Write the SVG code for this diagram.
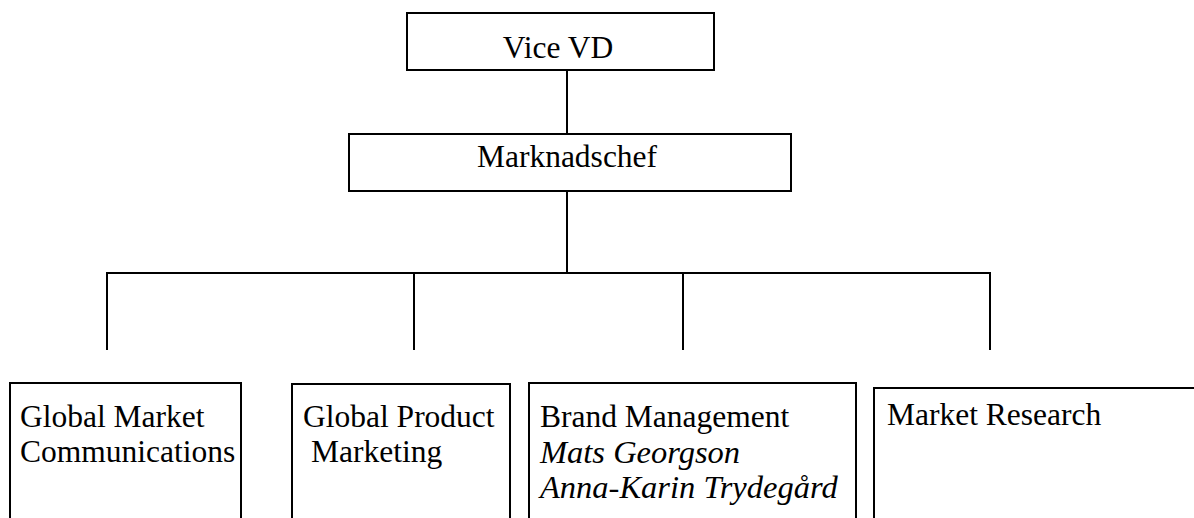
<svg xmlns="http://www.w3.org/2000/svg" width="1194" height="518" viewBox="0 0 1194 518">
<style>
.box{fill:#fff;stroke:#000;stroke-width:2}
.ln{fill:none;stroke:#000;stroke-width:2}
.t{font-family:'Liberation Serif','Times New Roman',serif;font-size:31.5px;fill:#000}
.it{font-style:italic;font-size:32.5px}
</style>
<rect width="1194" height="518" fill="#fff"/>
<g id="connectors">
<line class="ln" x1="567" y1="70" x2="567" y2="134"/>
<line class="ln" x1="567" y1="191" x2="567" y2="273"/>
<polyline class="ln" points="107,350 107,273 990,273 990,350"/>
<line class="ln" x1="414" y1="273" x2="414" y2="350"/>
<line class="ln" x1="683" y1="273" x2="683" y2="350"/>
</g>
<g id="vicevd">
<rect class="box" x="407" y="13" width="307" height="57"/>
<text class="t" x="558" y="58" text-anchor="middle">Vice VD</text>
</g>
<g id="marknadschef">
<rect class="box" x="349" y="134" width="442" height="57"/>
<text class="t" x="567" y="167" text-anchor="middle">Marknadschef</text>
</g>
<g id="gmc">
<rect class="box" x="10" y="383" width="231" height="160"/>
<text class="t" x="20" y="427">Global Market</text>
<text class="t" x="20" y="462">Communications</text>
</g>
<g id="gpm">
<rect class="box" x="292" y="384" width="218" height="160"/>
<text class="t" x="303" y="427">Global Product</text>
<text class="t" x="311" y="462">Marketing</text>
</g>
<g id="brand">
<rect class="box" x="529" y="383" width="327" height="160"/>
<text class="t" x="540" y="427">Brand Management</text>
<text class="t it" x="540" y="463">Mats Georgson</text>
<text class="t it" x="540" y="498">Anna-Karin Trydegård</text>
</g>
<g id="research">
<rect class="box" x="874" y="388" width="340" height="160"/>
<text class="t" x="887" y="425">Market Research</text>
</g>
</svg>
